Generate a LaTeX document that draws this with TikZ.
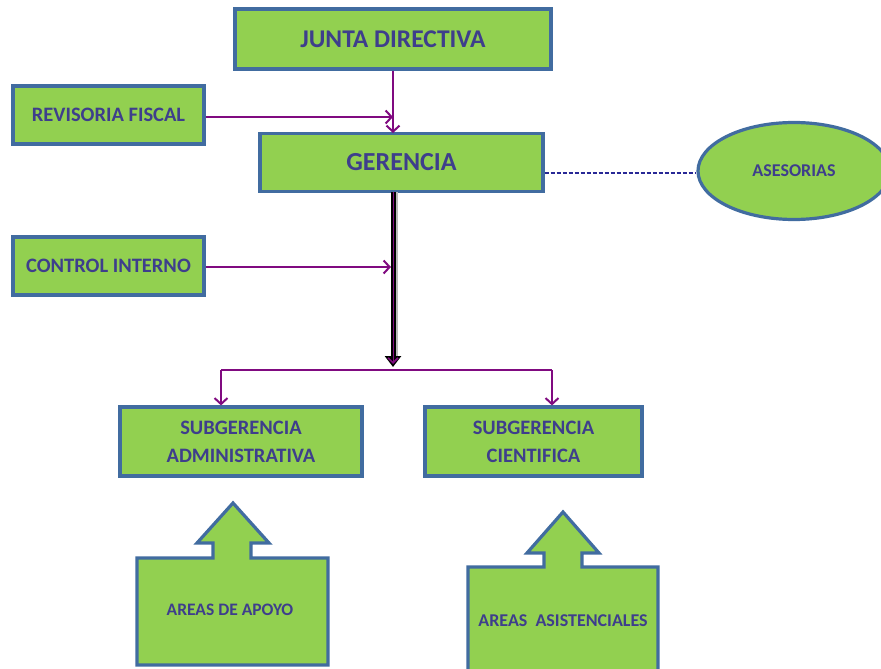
\documentclass[tikz,border=0pt]{standalone}
\usepackage{fontspec}
\setmainfont{Carlito}
\usetikzlibrary{shapes.geometric,arrows.meta,calc}
\definecolor{boxg}{RGB}{146,208,80}
\definecolor{boxb}{RGB}{65,108,160}
\definecolor{txtc}{RGB}{62,62,140}
\definecolor{purp}{RGB}{128,10,128}
\definecolor{dashb}{RGB}{40,40,150}
\begin{document}
\begin{tikzpicture}[x=1pt,y=-1pt,
  box/.style={draw=boxb, fill=boxg, line width=3.2pt, inner sep=0pt, text=txtc, align=center},
  fs/.style={font=\fontsize{#1}{#1}\selectfont\bfseries},
  pline/.style={draw=purp, line width=2pt},
  parrow/.style={pline, -{Straight Barb[length=6pt,width=13pt,line width=2pt]}}
]
\useasboundingbox (0,0) rectangle (881,669);
\fill[white] (0,0) rectangle (881,669);

\node[box, fs=25.5, minimum width=316pt, minimum height=60pt] (junta) at (393,39) {JUNTA DIRECTIVA};
\node[box, fs=20.5, minimum width=191pt, minimum height=58pt] (rev) at (108.5,115) {REVISORIA FISCAL};
\node[box, fs=26, minimum width=283pt, minimum height=58pt] (ger) at (401.5,162.5) {GERENCIA};
\node[box, fs=20.5, minimum width=191pt, minimum height=58pt] (ctrl) at (108.5,266) {CONTROL INTERNO};
\node[draw=boxb, fill=boxg, line width=3.2pt, ellipse, minimum width=192pt, minimum height=97pt, inner sep=0pt, text=txtc, fs=18] (ases) at (794,171) {ASESORIAS};
\node[box, minimum width=242pt, minimum height=69pt, font=\fontsize{20.5}{28}\selectfont\bfseries] (subadm) at (241,441.5) {SUBGERENCIA\\ADMINISTRATIVA};
\node[box, minimum width=217pt, minimum height=69pt, font=\fontsize{20.5}{28}\selectfont\bfseries] (subcie) at (533.5,441.5) {SUBGERENCIA\\CIENTIFICA};

% coordinates
\coordinate (jg) at (393,133);
\coordinate (revend) at (393,117);
\coordinate (gtop) at (393,192);
\coordinate (split) at (393,367);
\coordinate (ctrlend) at (391,267);
\coordinate (hl) at (221,370);
\coordinate (hr) at (552,370);

% junta -> gerencia
\draw[parrow] (junta.south -| jg) -- (jg);
% revisoria -> line
\draw[parrow] (rev.east |- revend) -- (revend);
% dashed to asesorias
\draw[dashb, line width=2pt, dash pattern=on 4pt off 2pt] (ger.east |- 0,173) -- (ases.west |- 0,173);
% thick line
\draw[gray!55, line width=3pt] ($(gtop)+(3.5,0)$) -- ($(split)+(3.5,-9)$);
\draw[black, line width=5pt, -{Triangle[length=11pt,width=16pt]}] (gtop) -- (split);
\draw[purp, line width=0.9pt, -{Straight Barb[length=5pt,width=10pt,line width=1.6pt]}] (gtop) -- ($(split)+(0,-3)$);
% control interno
\draw[parrow] (ctrl.east |- ctrlend) -- (ctrlend);
% split
\draw[pline] (hl) -- (hr);
\draw[parrow] (hl) -- (subadm.north -| hl);
\draw[parrow] (hr) -- (subcie.north -| hr);

% areas de apoyo
\draw[draw=boxb, fill=boxg, line width=3.2pt, line join=miter]
  (137,558) -- (213,558) -- (213,543) -- (197,543) -- (233,503) -- (269,543) -- (251,543) -- (251,558)
  -- (328,558) -- (328,665) -- (137,665) -- cycle;
\node[text=txtc, fs=17.5] (apoyo) at (230,610) {AREAS DE APOYO};

% areas asistenciales
\draw[draw=boxb, fill=boxg, line width=3.2pt, line join=miter]
  (468,567) -- (544,567) -- (544,553) -- (527,553) -- (563,512) -- (599,553) -- (582,553) -- (582,567)
  -- (658,567) -- (658,680) -- (468,680) -- cycle;
\node[text=txtc, fs=18] (asist) at (563,621) {AREAS\ \ ASISTENCIALES};
\end{tikzpicture}
\end{document}
